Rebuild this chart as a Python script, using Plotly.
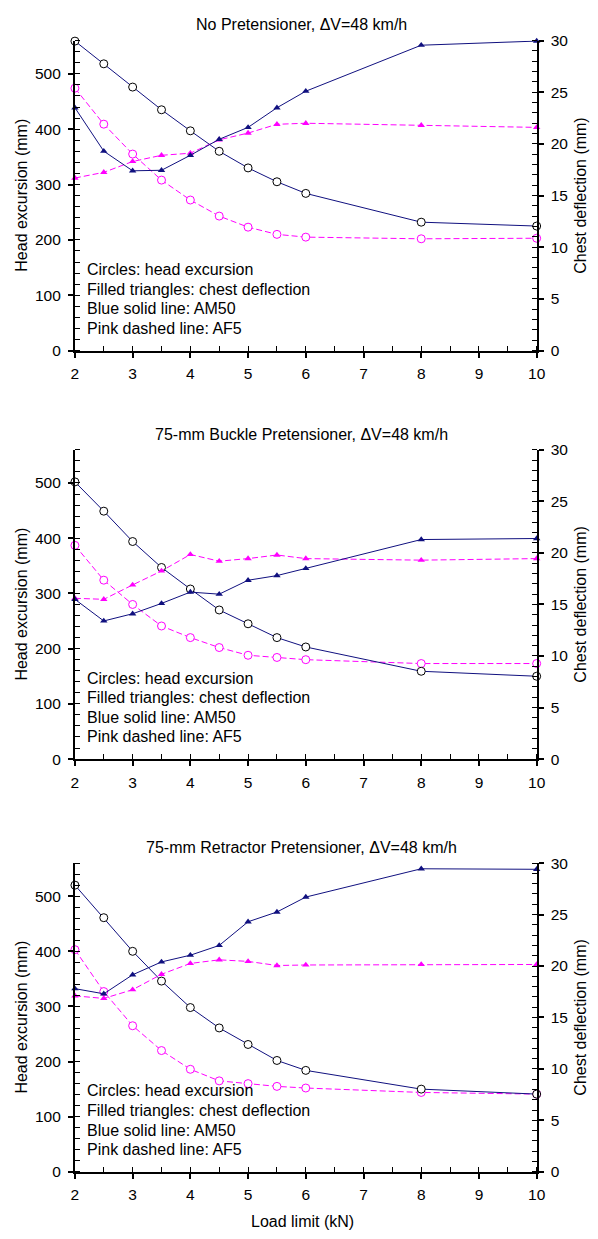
import plotly.graph_objects as go

W, H = 598, 1239

# ---------------- data ----------------
load_limit = [2, 2.5, 3, 3.5, 4, 4.5, 5, 5.5, 6, 8, 10]

titles = ["No Pretensioner, \u0394V=48 km/h",
          "75-mm Buckle Pretensioner, \u0394V=48 km/h",
          "75-mm Retractor Pretensioner, \u0394V=48 km/h"]

# Panel 1: No pretensioner
p1_am50_head = [559, 518, 476, 435, 397, 360, 330, 305, 284, 232, 225]
p1_af5_head = [474, 409, 355, 308, 272, 243, 223, 210, 205, 202, 203]
p1_am50_chest = [23.5, 19.3, 17.4, 17.45, 18.9, 20.45, 21.6, 23.5, 25.1, 29.55, 29.95]
p1_af5_chest = [16.7, 17.25, 18.3, 18.9, 19.1, 20.4, 21.05, 21.9, 22.0, 21.8, 21.6]

# Panel 2: 75-mm buckle pretensioner
p2_am50_head = [502, 449, 394, 347, 308, 270, 245, 220, 203, 159, 150]
p2_af5_head = [387, 324, 280, 241, 220, 202, 188, 184, 180, 173, 173]
p2_am50_chest = [15.5, 13.4, 14.1, 15.1, 16.2, 16.0, 17.35, 17.8, 18.5, 21.3, 21.4]
p2_af5_chest = [15.6, 15.5, 16.9, 18.25, 19.85, 19.2, 19.45, 19.8, 19.45, 19.3, 19.45]

# Panel 3: 75-mm retractor pretensioner
p3_am50_head = [520, 461, 400, 346, 298, 261, 231, 202, 184, 150, 141]
p3_af5_head = [403, 327, 265, 220, 186, 165, 160, 155, 152, 144, 141]
p3_am50_chest = [17.8, 17.3, 19.15, 20.4, 21.05, 22.0, 24.3, 25.25, 26.7, 29.45, 29.4]
p3_af5_chest = [17.1, 16.85, 17.7, 19.2, 20.25, 20.6, 20.45, 20.05, 20.1, 20.15, 20.15]

panels = [
    (p1_am50_head, p1_af5_head, p1_am50_chest, p1_af5_chest),
    (p2_am50_head, p2_af5_head, p2_am50_chest, p2_af5_chest),
    (p3_am50_head, p3_af5_head, p3_am50_chest, p3_af5_chest),
]

note_lines = ["Circles: head excursion",
              "Filled triangles: chest deflection",
              "Blue solid line: AM50",
              "Pink dashed line: AF5"]

x_ticks = [2, 3, 4, 5, 6, 7, 8, 9, 10]
left_ticks = [0, 100, 200, 300, 400, 500]
right_ticks = [0, 5, 10, 15, 20, 25, 30]

# ---------------- layout geometry (pixels) ----------------
FONT = "Liberation Sans, Arial, Helvetica, sans-serif"
TXT = 16
TICK = 15.5
BLUE = "#10107f"
PINK = "#ff00ff"
x_left_px, x_right_px = 72.5, 544.5
panel_px = [(32, 346.4), (447, 760.5), (866, 1179)]  # (top, bottom)


def fx(px):
    return px / W


def fy(py):
    return 1 - py / H


fig = go.Figure()
annotations = []
layout = dict(
    width=W, height=H, autosize=False,
    margin=dict(l=0, r=0, t=0, b=0, pad=0),
    paper_bgcolor="white", plot_bgcolor="white",
    showlegend=False,
    font=dict(family=FONT, size=TXT, color="black"),
)

for i, (am_h, af_h, am_c, af_c) in enumerate(panels):
    n = i + 1
    xname = "x" if n == 1 else f"x{n}"
    yl = 2 * i + 1
    yr = 2 * i + 2
    yl_name = "y" if yl == 1 else f"y{yl}"
    yr_name = f"y{yr}"
    top, bot = panel_px[i]

    # head excursion (left axis)
    fig.add_trace(go.Scatter(
        x=load_limit, y=af_h, xaxis=xname, yaxis=yl_name, mode="lines+markers",
        line=dict(color=PINK, width=1, dash="6px,3px"),
        marker=dict(symbol="circle", size=8, color="white", line=dict(color=PINK, width=1)),
        cliponaxis=False))
    fig.add_trace(go.Scatter(
        x=load_limit, y=am_h, xaxis=xname, yaxis=yl_name, mode="lines+markers",
        line=dict(color=BLUE, width=1),
        marker=dict(symbol="circle", size=8, color="white", line=dict(color="black", width=1)),
        cliponaxis=False))
    # chest deflection (right axis)
    fig.add_trace(go.Scatter(
        x=load_limit, y=af_c, xaxis=xname, yaxis=yr_name, mode="lines+markers",
        line=dict(color=PINK, width=1, dash="6px,3px"),
        marker=dict(symbol="triangle-up", size=6.5, color=PINK, line=dict(width=0)),
        cliponaxis=False))
    fig.add_trace(go.Scatter(
        x=load_limit, y=am_c, xaxis=xname, yaxis=yr_name, mode="lines+markers",
        line=dict(color=BLUE, width=1),
        marker=dict(symbol="triangle-up", size=6.5, color=BLUE, line=dict(width=0)),
        cliponaxis=False))

    ydom = [fy(bot), fy(top)]
    xkey = "xaxis" if n == 1 else f"xaxis{n}"
    ylkey = "yaxis" if yl == 1 else f"yaxis{yl}"
    yrkey = f"yaxis{yr}"

    common = dict(
        ticks="outside", ticklen=5, tickwidth=1.5, tickcolor="black",
        showline=True, linecolor="black", linewidth=2,
        showgrid=False, zeroline=False,
        tickfont=dict(family=FONT, size=TICK, color="black"), fixedrange=True)

    layout[xkey] = dict(
        domain=[fx(x_left_px), fx(x_right_px)], anchor=yl_name,
        range=[2, 10], tickmode="array", tickvals=x_ticks, ticklabelstandoff=3,
        minor=dict(ticks="inside", dtick=0.5, tick0=2, ticklen=5, tickwidth=1.2, tickcolor="black"),
        **common)
    layout[ylkey] = dict(
        domain=ydom, anchor=xname, range=[0, 560],
        tickmode="array", tickvals=left_ticks, ticklabelstandoff=4,
        minor=dict(ticks="inside", dtick=20, tick0=0, ticklen=5, tickwidth=1.2, tickcolor="black"),
        **common)
    layout[yrkey] = dict(
        domain=ydom, anchor=xname, overlaying=yl_name, side="right", range=[0, 30],
        tickmode="array", tickvals=right_ticks, ticklabelstandoff=4,
        minor=dict(ticks="inside", dtick=1, tick0=0, ticklen=5, tickwidth=1.2, tickcolor="black"),
        **common)

    # panel title
    annotations.append(dict(
        text=titles[i], x=fx(304), y=fy(top - 16), xref="paper", yref="paper",
        xanchor="center", yanchor="middle", showarrow=False,
        font=dict(family=FONT, size=TXT, color="black")))
    # axis titles
    annotations.append(dict(
        text="Head excursion (mm)", x=fx(17.5), y=fy((top + bot) / 2), xref="paper", yref="paper",
        xanchor="center", yanchor="middle", textangle=-90, showarrow=False,
        font=dict(family=FONT, size=TXT, color="black")))
    annotations.append(dict(
        text="Chest deflection (mm)", x=fx(589), y=fy((top + bot) / 2), xref="paper", yref="paper",
        xanchor="center", yanchor="middle", textangle=-90, showarrow=False,
        font=dict(family=FONT, size=TXT, color="black")))
    # note lines
    for k, line in enumerate(note_lines):
        annotations.append(dict(
            text=line, x=fx(83), y=fy(bot - 82 + 19.8 * k), xref="paper", yref="paper",
            xanchor="left", yanchor="middle", showarrow=False,
            font=dict(family=FONT, size=TXT, color="black")))

annotations.append(dict(
    text="Load limit (kN)", x=fx(305), y=fy(1229), xref="paper", yref="paper",
    xanchor="center", yanchor="middle", showarrow=False,
    font=dict(family=FONT, size=TXT, color="black")))

layout["annotations"] = annotations
fig.update_layout(**layout)
fig.write_html("out.html")
